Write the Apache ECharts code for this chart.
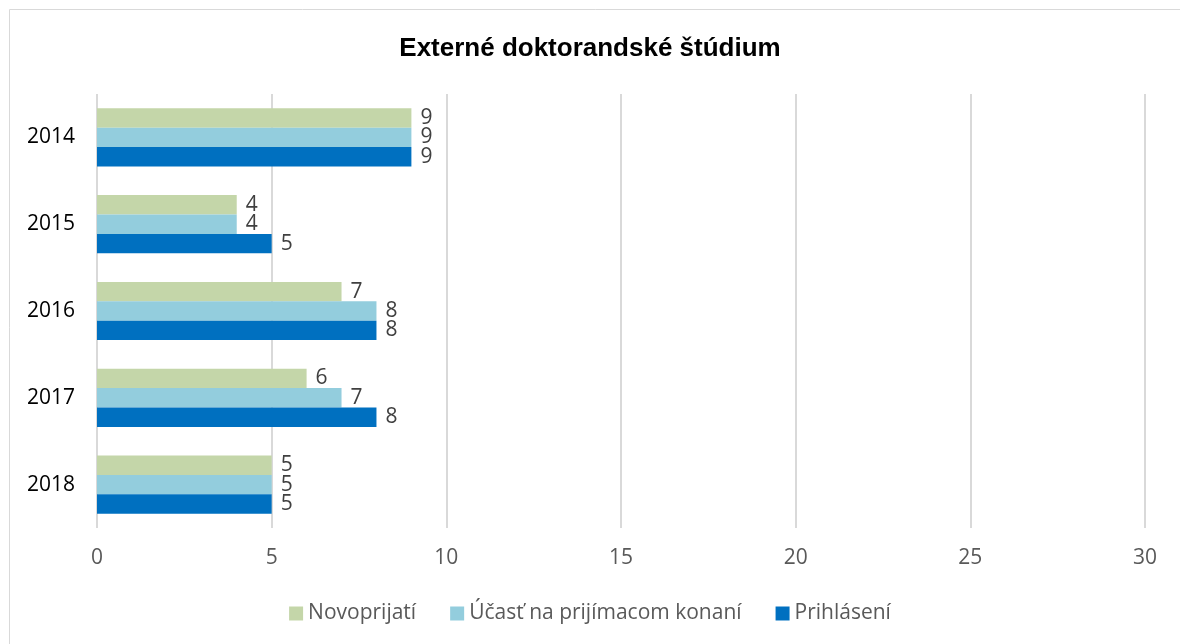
<!DOCTYPE html>
<html>
<head>
<meta charset="utf-8">
<script src="https://cdn.jsdelivr.net/npm/echarts@6/dist/echarts.min.js"></script>
<style>
  html, body { margin: 0; padding: 0; background: #fff; }
  #main { width: 1180px; height: 644px; }
</style>
</head>
<body>
<div id="main"></div>
<script>
// data
var years = ['2014', '2015', '2016', '2017', '2018'];
var novoprijati = [9, 4, 7, 6, 5];
var ucast = [9, 4, 8, 7, 5];
var prihlaseni = [9, 5, 8, 8, 5];
var seriesNames = ['Novoprijatí', 'Účasť na prijímacom konaní', 'Prihlásení'];
var colors = ['#C4D6A9', '#93CDDD', '#0070C0'];

var font = '"Open Sans", "Liberation Sans", sans-serif';

function makeSeries(name, data, color) {
  return {
    name: name,
    type: 'bar',
    data: data,
    barGap: '0%',
    barCategoryGap: '33%',
    itemStyle: { color: color },
    label: {
      show: true,
      position: 'right',
      distance: 9,
      color: '#404040',
      fontSize: 21,
      fontFamily: font
    }
  };
}

var chart = echarts.init(document.getElementById('main'));
chart.setOption({
  animation: false,
  title: {
    text: 'Externé doktorandské štúdium',
    left: 'center',
    top: 31,
    textStyle: { fontFamily: '"Liberation Sans", Arial, sans-serif', fontSize: 26, fontWeight: 'bold', color: '#000' }
  },
  graphic: [{
    type: 'polyline',
    shape: { points: [[9.5, 660], [9.5, 9.5], [1190, 9.5]] },
    style: { stroke: '#D9D9D9', lineWidth: 1, fill: null },
    silent: true
  }],
  legend: {
    top: 598,
    left: 'center',
    itemWidth: 14,
    itemHeight: 14,
    itemGap: 34,
    icon: 'rect',
    textStyle: { fontFamily: font, fontSize: 21, color: '#595959' },
    data: seriesNames
  },
  grid: { left: 97, right: 35, top: 94, bottom: 116 },
  xAxis: {
    type: 'value',
    min: 0,
    max: 30,
    interval: 5,
    axisLine: { show: false },
    axisTick: { show: false },
    axisLabel: { color: '#595959', fontSize: 21, fontFamily: font, margin: 20 },
    splitLine: { lineStyle: { color: '#D9D9D9', width: 2 } }
  },
  yAxis: {
    type: 'category',
    data: years,
    inverse: true,
    axisLine: { show: false },
    axisTick: { show: false },
    axisLabel: { color: '#000', fontSize: 21, fontFamily: font, margin: 22 }
  },
  series: [
    makeSeries(seriesNames[0], novoprijati, colors[0]),
    makeSeries(seriesNames[1], ucast, colors[1]),
    makeSeries(seriesNames[2], prihlaseni, colors[2])
  ]
});
</script>
</body>
</html>
